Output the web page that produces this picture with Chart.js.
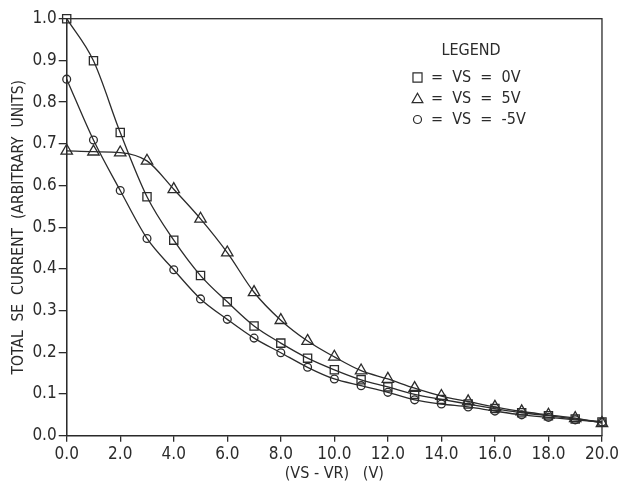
<!DOCTYPE html>
<html>
<head>
<meta charset="utf-8">
<script src="https://cdn.jsdelivr.net/npm/chart.js@4/dist/chart.umd.min.js"></script>
<style>
html,body{margin:0;padding:0;background:#fff;}
#wrap{width:622px;height:483px;position:relative;}
</style>
</head>
<body>
<div id="wrap"><canvas id="seChart"></canvas></div>
<script>

/* ================= DATA ================= */
const vsDiff=[0,1,2,3,4,5,6,7,8,9,10,11,12,13,14,15,16,17,18,19,20];

const vs0=[1.000,0.899,0.727,0.573,0.469,0.384,0.321,0.263,0.222,0.186,0.158,0.134,0.117,0.099,0.087,0.076,0.065,0.055,0.048,0.040,0.033];
const vs5=[0.683,0.681,0.679,0.659,0.591,0.520,0.439,0.344,0.277,0.227,0.189,0.156,0.136,0.114,0.095,0.082,0.069,0.058,0.050,0.042,0.030];
const vsNeg5=[0.855,0.709,0.588,0.473,0.398,0.328,0.279,0.234,0.199,0.164,0.136,0.120,0.104,0.086,0.076,0.069,0.059,0.050,0.044,0.038,0.033];

const seriesNames=["VS = 0V","VS = 5V","VS = -5V"];
const seriesMarks=["rect","triangle","circle"];

const xTickLabels=["0.0","2.0","4.0","6.0","8.0","10.0","12.0","14.0","16.0","18.0","20.0"];
const yTickLabels=["0.0","0.1","0.2","0.3","0.4","0.5","0.6","0.7","0.8","0.9","1.0"];

const ink="#2b2b2b";
const narrow="'Liberation Sans Narrow','DejaVu Sans Condensed',sans-serif";

const toPoints=(ys)=>ys.map((y,i)=>({x:vsDiff[i],y:y}));

const markRadius={rect:5.8,triangle:6.6,circle:3.9};
const legendRadius={rect:6.4,triangle:6.2,circle:4};

function makeSet(ys,i){
return {
label:seriesNames[i],
data:toPoints(ys),
borderColor:ink,
borderWidth:1.3,
backgroundColor:"rgba(0,0,0,0)",
pointStyle:seriesMarks[i],
pointRadius:markRadius[seriesMarks[i]],
pointBorderWidth:1.3,
pointBorderColor:ink,
pointBackgroundColor:"rgba(0,0,0,0)",
cubicInterpolationMode:"monotone",
clip:false,
fill:false
};
}

/* ================= FRAME + LEGEND ================= */
const framePlugin={
id:"frame",
afterDraw(chart){
const ctx=chart.ctx;
const a=chart.chartArea;
ctx.save();
ctx.strokeStyle=ink;
ctx.lineWidth=1.3;
ctx.strokeRect(a.left,a.top,a.right-a.left,a.bottom-a.top);

/* legend block, top right */
ctx.font="16px "+narrow;
ctx.textBaseline="middle";
ctx.fillStyle=ink;
ctx.textAlign="center";
ctx.fillText("LEGEND",471,51);

const rows=[77.5,98.5,119.5];
ctx.textAlign="left";
rows.forEach((y,i)=>{
const st=seriesMarks[i];
ctx.strokeStyle=ink;
ctx.lineWidth=1.2;
ctx.fillStyle="rgba(0,0,0,0)";
Chart.helpers.drawPoint(ctx,{pointStyle:st,rotation:0,radius:legendRadius[st],borderWidth:1.2},417.5,y+(st==="triangle"?1:0));
ctx.fillStyle=ink;
ctx.fillText("=  "+seriesNames[i].replace(" = ","  =  "),431,y);
});
ctx.restore();
}
};

/* ================= CHART ================= */
new Chart(
document.getElementById("seChart"),
{
type:"line",
data:{
datasets:[
makeSet(vs0,0),
makeSet(vs5,1),
makeSet(vsNeg5,2)
]
},
options:{
responsive:true,
maintainAspectRatio:false,
animation:false,
events:[],
layout:{
padding:{left:10,right:17.4,top:18.7,bottom:0}
},
plugins:{
legend:{display:false},
tooltip:{enabled:false}
},
scales:{
x:{
type:"linear",
min:0,
max:20,
afterFit(s){s.height=47.3;},
border:{display:true,color:ink,width:1.3},
grid:{display:true,drawOnChartArea:false,drawTicks:true,tickLength:6,color:ink,lineWidth:1.3},
ticks:{
stepSize:2,
color:ink,
padding:3,
maxRotation:0,
autoSkip:false,
font:{family:narrow,size:17},
callback:(v,i)=>xTickLabels[i]
},
title:{
display:true,
text:"(VS - VR)   (V)",
color:ink,
padding:{top:0,bottom:0},
font:{family:narrow,size:16,lineHeight:1.2}
}
},
y:{
min:0,
max:1,
afterFit(s){s.width=56.7;},
border:{display:true,color:ink,width:1.3},
grid:{display:true,drawOnChartArea:false,drawTicks:true,tickLength:8,color:ink,lineWidth:1.3},
ticks:{
stepSize:0.1,
color:ink,
padding:2,
autoSkip:false,
font:{family:narrow,size:17},
callback:(v,i)=>yTickLabels[i]
},
title:{
display:true,
text:"TOTAL  SE  CURRENT  (ARBITRARY  UNITS)",
color:ink,
padding:{top:0,bottom:0},
font:{family:narrow,size:15.5,lineHeight:1.2}
}
}
}
},
plugins:[framePlugin]
}
);

</script>
</body>
</html>
